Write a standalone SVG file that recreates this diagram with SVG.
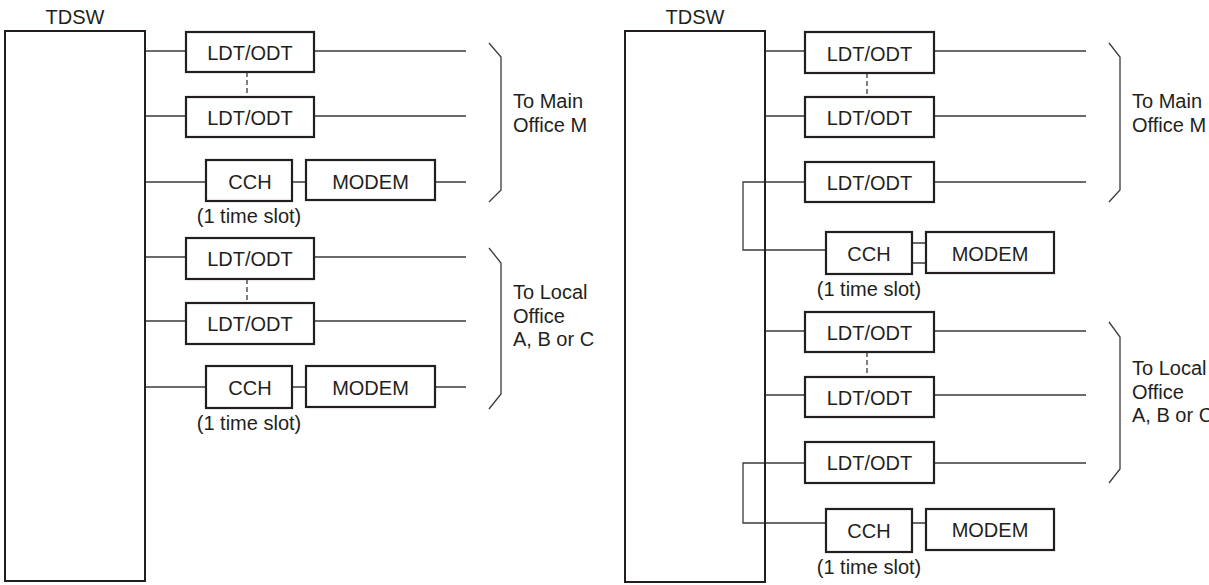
<svg xmlns="http://www.w3.org/2000/svg" width="1209" height="585" viewBox="0 0 1209 585">
<style>
.box{fill:#fff;stroke:#231f20;stroke-width:2.2}
.tdsw{fill:none;stroke:#231f20;stroke-width:2}
.ln{fill:none;stroke:#3a3a3a;stroke-width:1.3}
.dash{fill:none;stroke:#3a3a3a;stroke-width:1.3;stroke-dasharray:5 3}
text{font-family:"Liberation Sans",Arial,Helvetica,sans-serif;font-size:20px;fill:#231f20}
.c{text-anchor:middle}
</style>
<rect width="1209" height="585" fill="#fff"/>
<g id="connectors">
  <path class="ln" d="M145 51H186M314 51H466M145 116H186M314 116H466M145 182H206M292 182H306M435 182H466"/>
  <path class="ln" d="M145 257H186M314 257H466M145 321H186M314 321H466M145 387H206M292 387H306M435 387H466"/>
  <path class="dash" d="M247 72V97M247 279V303"/>
  <path class="ln" d="M489 43L501 57V190L489 202M489 248L501 263V394L489 409"/>
  <path class="ln" d="M765 51H805M934 51H1086M765 116H805M934 116H1086M934 182H1086M805 182H743V250H826M912 243H926M912 263H926"/>
  <path class="ln" d="M765 331H805M934 331H1086M765 395H805M934 395H1086M934 463H1086M805 463H743V523H826M912 523H926"/>
  <path class="dash" d="M867 73V97M867 352V377"/>
  <path class="ln" d="M1109 43L1120 57V190L1109 202M1109 322L1120 337V469L1109 483"/>
</g>
<g id="tdsw-left"><rect class="tdsw" x="5" y="31" width="140" height="550"/><text class="c" x="75" y="24">TDSW</text></g>
<g id="ldt-l1"><rect class="box" x="186" y="32" width="128" height="40"/><text class="c" x="250" y="60">LDT/ODT</text></g>
<g id="ldt-l2"><rect class="box" x="186" y="97" width="128" height="40"/><text class="c" x="250" y="125">LDT/ODT</text></g>
<g id="cch-l1"><rect class="box" x="206" y="160" width="86" height="41"/><text class="c" x="250" y="189">CCH</text><text class="c" x="249" y="223">(1 time slot)</text></g>
<g id="modem-l1"><rect class="box" x="306" y="160" width="129" height="40"/><text class="c" x="370.5" y="189">MODEM</text></g>
<g id="ldt-l3"><rect class="box" x="186" y="238" width="128" height="41"/><text class="c" x="250" y="266">LDT/ODT</text></g>
<g id="ldt-l4"><rect class="box" x="186" y="303" width="128" height="41"/><text class="c" x="250" y="331">LDT/ODT</text></g>
<g id="cch-l2"><rect class="box" x="206" y="366" width="86" height="42"/><text class="c" x="250" y="395">CCH</text><text class="c" x="249" y="430">(1 time slot)</text></g>
<g id="modem-l2"><rect class="box" x="306" y="366" width="129" height="41"/><text class="c" x="370.5" y="395">MODEM</text></g>
<g id="label-l1"><text x="513" y="108">To Main</text><text x="513" y="132">Office M</text></g>
<g id="label-l2"><text x="513" y="299">To Local</text><text x="513" y="322.5">Office</text><text x="513" y="346">A, B or C</text></g>
<g id="tdsw-right"><rect class="tdsw" x="625" y="31" width="140" height="551"/><text class="c" x="695" y="24">TDSW</text></g>
<g id="ldt-r1"><rect class="box" x="805" y="32" width="129" height="41"/><text class="c" x="869.5" y="61">LDT/ODT</text></g>
<g id="ldt-r2"><rect class="box" x="805" y="97" width="129" height="40"/><text class="c" x="869.5" y="125">LDT/ODT</text></g>
<g id="ldt-r3"><rect class="box" x="805" y="162" width="129" height="40"/><text class="c" x="869.5" y="190">LDT/ODT</text></g>
<g id="cch-r1"><rect class="box" x="826" y="232" width="86" height="42"/><text class="c" x="869" y="261">CCH</text><text class="c" x="869" y="296">(1 time slot)</text></g>
<g id="modem-r1"><rect class="box" x="926" y="232" width="128" height="41"/><text class="c" x="990" y="261">MODEM</text></g>
<g id="ldt-r4"><rect class="box" x="805" y="312" width="129" height="40"/><text class="c" x="869.5" y="340">LDT/ODT</text></g>
<g id="ldt-r5"><rect class="box" x="805" y="377" width="129" height="40"/><text class="c" x="869.5" y="405">LDT/ODT</text></g>
<g id="ldt-r6"><rect class="box" x="805" y="442" width="129" height="41"/><text class="c" x="869.5" y="470">LDT/ODT</text></g>
<g id="cch-r2"><rect class="box" x="826" y="509" width="86" height="43"/><text class="c" x="869" y="538">CCH</text><text class="c" x="869" y="574">(1 time slot)</text></g>
<g id="modem-r2"><rect class="box" x="926" y="509" width="128" height="41"/><text class="c" x="990" y="537">MODEM</text></g>
<g id="label-r1"><text x="1132" y="108">To Main</text><text x="1132" y="132">Office M</text></g>
<g id="label-r2"><text x="1132" y="375">To Local</text><text x="1132" y="398.5">Office</text><text x="1132" y="422">A, B or C</text></g>
</svg>
